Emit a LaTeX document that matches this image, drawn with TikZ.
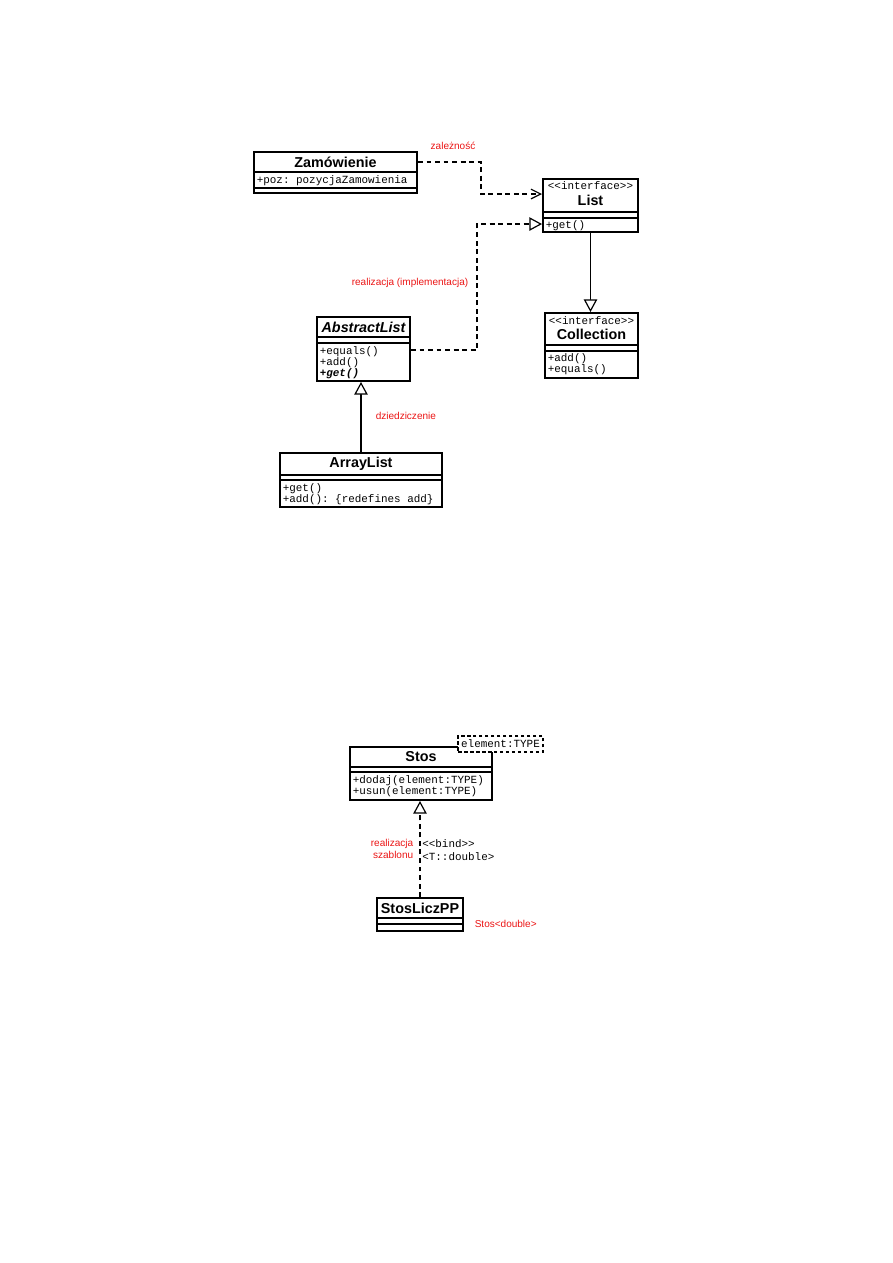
\documentclass[tikz,border=0pt]{standalone}
\usepackage{fontspec}
\setmainfont{Liberation Sans}
\setmonofont{Liberation Mono}
\usetikzlibrary{arrows.meta, calc, fit}
\definecolor{notered}{RGB}{235, 20, 20}

\begin{document}
\begin{tikzpicture}[x=0.0235cm, y=-0.0235cm,
    classbox/.style={draw, line width=1.3pt, inner sep=0pt},
    sep/.style={line width=0.9pt},
    title/.style={font=\bfseries\fontsize{9.6}{11}\selectfont},
    member/.style={font=\ttfamily\fontsize{7.3}{8.5}\selectfont, anchor=west, inner sep=1pt},
    stereo/.style={font=\ttfamily\fontsize{7.3}{8.5}\selectfont, inner sep=0pt},
    remark/.style={text=notered, font=\fontsize{6.7}{8.2}\selectfont, inner sep=1pt},
    conn/.style={line width=0.8pt},
    dashline/.style={line width=1.2pt, dash pattern=on 3.3pt off 2.4pt},
    depend/.style={dashline, -{Straight Barb[length=6.5pt, width=6.5pt, line width=0.8pt]}},
    realize/.style={dashline, -{Triangle[open, length=8.5pt, width=9pt, fill=white, line width=0.8pt]}},
    inherit/.style={conn, -{Triangle[open, length=8.5pt, width=9pt, fill=white]}}]
                \useasboundingbox (0,0) rectangle (893,1263);

                % Zamowienie
                \node[classbox, fit={(254,152) (417,193)}] (zam) {};
                \node[title] (zamtitle) at (335.5,162) {Zamówienie};
                \draw[sep] (254,172) -- (417,172);
                \draw[sep] (254,188) -- (417,188);
                \node[member] (zampoz) at (255,181) {+poz: pozycjaZamowienia};

                % List
                \node[classbox, fit={(543,179) (638,232)}] (list) {};
                \node[stereo] (liststereo) at (590.5,186) {<{}<interface>{}>};
                \node[title] (listtitle) at (590.5,200) {List};
                \draw[sep] (543,212) -- (638,212);
                \draw[sep] (543,218) -- (638,218);
                \node[member] (listget) at (544,226) {+get()};

                % Collection
                \node[classbox, fit={(545,313) (638,378)}] (coll) {};
                \node[stereo] (collstereo) at (591.5,321) {<{}<interface>{}>};
                \node[title] (colltitle) at (591.5,334) {Collection};
                \draw[sep] (545,345) -- (638,345);
                \draw[sep] (545,351) -- (638,351);
                \node[member] (colladd) at (546,359) {+add()};
                \node[member] (collequals) at (546,370) {+equals()};

                % AbstractList
                \node[classbox, fit={(317,317) (410,381)}] (alist) {};
                \node[title, font=\bfseries\itshape\fontsize{9.6}{11}\selectfont] (alisttitle) at (363.5,327) {AbstractList};
                \draw[sep] (317,337) -- (410,337);
                \draw[sep] (317,343) -- (410,343);
                \node[member] (alistequals) at (318,352) {+equals()};
                \node[member] (alistadd) at (318,363) {+add()};
                \node[member, font=\ttfamily\bfseries\itshape\fontsize{7.3}{8.5}\selectfont] (alistget) at (318,374) {+get()};

                % ArrayList
                \node[classbox, fit={(280,453) (442,507)}] (arr) {};
                \node[title] (arrtitle) at (361,464) {ArrayList};
                \draw[sep] (280,475) -- (442,475);
                \draw[sep] (280,480) -- (442,480);
                \node[member] (arrget) at (281,489) {+get()};
                \node[member] (arradd) at (281,500) {+add(): \{redefines add\}};

                % Relations (upper diagram)
                \draw[depend] (zam.east |- zamtitle) -- ++(63,0) |- ($(list.north west)+(0,16)$);
                \node[remark] (deplabel) at (453,146) {zależność};
                \draw[realize] ($(alist.north east)+(0,34)$) -- ++(66,0) |- ($(list.north west)+(0,46)$);
                \node[remark, anchor=east] (reallabel) at (470,283) {realizacja (implementacja)};
                \draw[inherit] (list.south) -- (list.south |- coll.north);
                \draw[inherit] (arr.north) -- (arr.north |- alist.south);
                \node[remark, anchor=west] (inhlabel) at (374,416) {dziedziczenie};

                % Stos
                \node[classbox, fit={(350,747) (492,800)}] (stos) {};
                \node[title] (stostitle) at (421,757) {Stos};
                \draw[sep] (350,767) -- (492,767);
                \draw[sep] (350,772) -- (492,772);
                \node[member] (stosdodaj) at (351,781) {+dodaj(element:TYPE)};
                \node[member] (stosusun) at (351,792) {+usun(element:TYPE)};
                \node[draw, fill=white, line width=1.2pt, dash pattern=on 2.4pt off 1.6pt, inner sep=0pt,
                      fit={(458,736) (543,752)}] (param) {};
                \node[stereo] (paramtext) at (500.5,744) {element:TYPE};

                % StosLiczPP
                \node[classbox, fit={(377,898) (463,931)}] (slicz) {};
                \node[title] (slicztitle) at (420,908) {StosLiczPP};
                \draw[sep] (377,918) -- (463,918);
                \draw[sep] (377,924) -- (463,924);

                % Binding
                \draw[realize] (slicz.north) -- (slicz.north |- stos.south);
                \node[remark, anchor=east, align=right] (bindlabel) at (415,849) {realizacja\\szablonu};
                \node[stereo, anchor=west, align=left, font=\ttfamily\fontsize{7.3}{8.4}\selectfont] (bindtext) at (422,850) {<{}<bind>{}>\\<T::double>};
                \node[remark, anchor=west] (sliczlabel) at (473,924) {Stos<double>};
            \end{tikzpicture}
\end{document}
